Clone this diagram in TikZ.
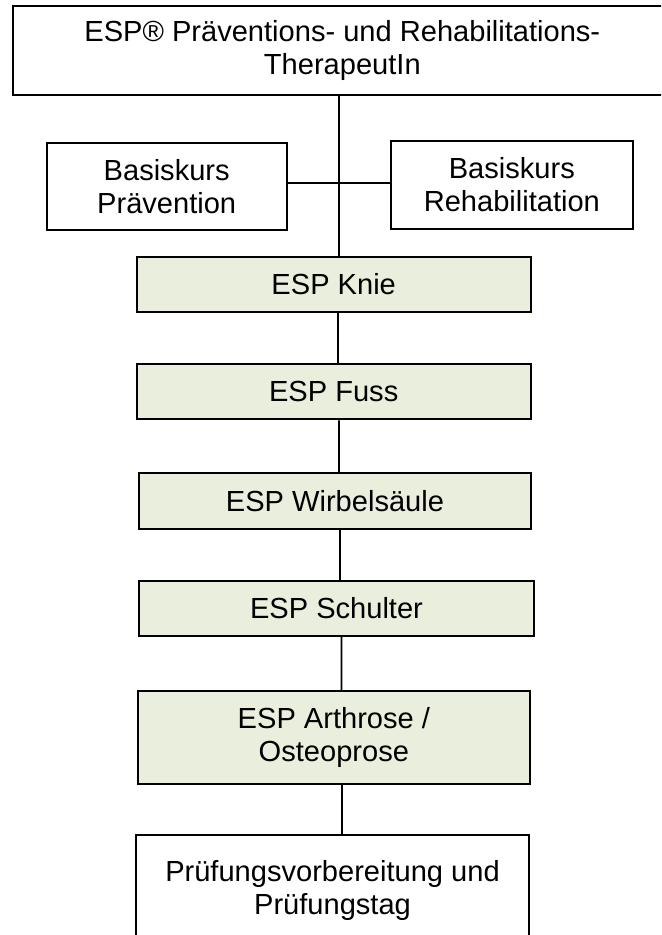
\documentclass[tikz,border=0pt]{standalone}
\usepackage{fontspec}
\setmainfont{Liberation Sans}
\usetikzlibrary{calc}
\definecolor{boxgreen}{RGB}{234,238,221}
\begin{document}
\begin{tikzpicture}[x=0.75pt,y=-0.75pt,
  box/.style={draw=black, line width=1.5pt, rectangle, inner sep=0pt, align=center,
    font=\fontsize{21.8pt}{24.75pt}\selectfont},
  course/.style={box, fill=boxgreen},
  link/.style={draw=black, line width=1.2pt}]
\useasboundingbox (0,0) rectangle (661,935);
\clip (0,0) rectangle (661,935);
\node[box, minimum width=494.5pt, minimum height=67pt] (top) at (342.35,50.35)
  {ESP® Präventions- und Rehabilitations-\\TherapeutIn};
\node[box, minimum width=180pt, minimum height=65pt] (bprev) at (166.7,186.65)
  {Basiskurs\\Prävention};
\node[box, minimum width=181.3pt, minimum height=65.8pt] (breha) at (511.85,184.85)
  {Basiskurs\\Rehabilitation};
\node[course, minimum width=295.5pt, minimum height=41pt] (knie) at (333.7,284.35) {ESP Knie};
\node[course, minimum width=295.5pt, minimum height=41.25pt] (fuss) at (333.7,391.8) {ESP Fuss};
\node[course, minimum width=294pt, minimum height=41.8pt] (wirbel) at (335,501.15) {ESP Wirbelsäule};
\node[course, minimum width=296.25pt, minimum height=41.25pt] (schulter) at (336.5,608.2) {ESP Schulter};
\node[course, minimum width=294.2pt, minimum height=69.75pt] (arthrose) at (333.85,737.5)
  {ESP Arthrose /\\Osteoprose};
\node[box, minimum width=294.75pt, minimum height=82.5pt] (pruef) at (332.5,890)
  {Prüfungsvorbereitung und\\Prüfungstag};
\coordinate (spine) at (339,183);
\draw[link] (top.south -| spine) -- (knie.north -| spine);
\draw[link] (spine -| bprev.east) -- (spine -| breha.west);
\draw[link] ($(knie.south)+(4.3,0)$) -- ($(fuss.north)+(4.3,0)$);
\draw[link] ($(fuss.south)+(5.3,0)$) -- ($(wirbel.north)+(4,0)$);
\draw[link] ($(wirbel.south)+(5,0)$) -- ($(schulter.north)+(3.5,0)$);
\draw[link] ($(schulter.south)+(5,0)$) -- ($(arthrose.north)+(7.65,0)$);
\draw[link] ($(arthrose.south)+(8.15,0)$) -- ($(pruef.north)+(9.5,0)$);
\end{tikzpicture}
\end{document}
